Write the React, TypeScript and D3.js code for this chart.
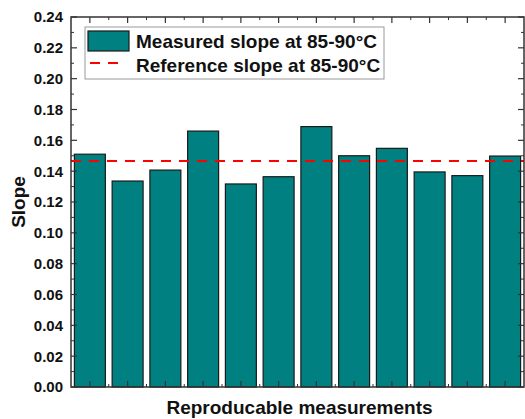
import React from 'react';
import * as d3 from 'd3';

// chart data
const runs = [1, 2, 3, 4, 5, 6, 7, 8, 9, 10, 11, 12];
const measuredSlope = [0.151, 0.1336, 0.1407, 0.166, 0.1317, 0.1364, 0.1689, 0.150, 0.1548, 0.1395, 0.1371, 0.1498];
const referenceSlope = 0.1466;
const yTicks = [0, 0.02, 0.04, 0.06, 0.08, 0.1, 0.12, 0.14, 0.16, 0.18, 0.2, 0.22, 0.24];
const legendLabels = ['Measured slope at 85-90°C', 'Reference slope at 85-90°C'];

const width = 525;
const height = 419;
const margin = { top: 17, right: 1, bottom: 32, left: 71 };
const font = 'Arial, "Liberation Sans", sans-serif';
const teal = '#008080';

const App = () => {
  const x = d3.scaleLinear()
    .domain([0.5, 12.5])
    .range([margin.left, width - margin.right]);

  const y = d3.scaleLinear()
    .domain([0, 0.24])
    .range([height - margin.bottom, margin.top]);

  const barW = (x(1) - x(0)) * 0.82;
  const x0 = margin.left;
  const x1 = width - margin.right;
  const y0 = height - margin.bottom;
  const y1 = margin.top;

  const yMinor = d3.range(0.01, 0.24, 0.02);
  const xMinor = d3.range(1.5, 12.5, 1);

  return (
    <svg width={width} height={height} style={{ position: 'absolute', left: 0, top: 0, background: '#fff' }}>
      {/* bars */}
      {runs.map((r, i) => (
        <rect key={r}
          x={x(r) - barW / 2}
          y={y(measuredSlope[i])}
          width={barW}
          height={y(0) - y(measuredSlope[i])}
          fill={teal}
          stroke="#1a1a1a"
          strokeWidth={1.2} />
      ))}

      {/* reference line */}
      <line x1={x0} x2={x1} y1={y(referenceSlope)} y2={y(referenceSlope)}
        stroke="#ff0000" strokeWidth={2} strokeDasharray="10,8" />

      {/* frame */}
      <rect x={x0} y={y1} width={x1 - x0} height={y0 - y1} fill="none" stroke="#333" strokeWidth={1.5} />

      {/* y ticks, left and right, inward */}
      {yTicks.map(t => (
        <g key={'y' + t}>
          <line x1={x0} x2={x0 + 6} y1={y(t)} y2={y(t)} stroke="#333" strokeWidth={1.2} />
          <line x1={x1} x2={x1 - 6} y1={y(t)} y2={y(t)} stroke="#333" strokeWidth={1.2} />
          <text x={x0 - 8} y={y(t)} dy="0.36em" textAnchor="end"
            fontFamily={font} fontWeight="bold" fontSize={15} fill="#111">
            {t.toFixed(2)}
          </text>
        </g>
      ))}
      {yMinor.map(t => (
        <g key={'ym' + t}>
          <line x1={x0} x2={x0 + 3} y1={y(t)} y2={y(t)} stroke="#333" strokeWidth={1} />
          <line x1={x1} x2={x1 - 3} y1={y(t)} y2={y(t)} stroke="#333" strokeWidth={1} />
        </g>
      ))}

      {/* x ticks, top and bottom, inward */}
      {runs.map(r => (
        <g key={'x' + r}>
          <line x1={x(r)} x2={x(r)} y1={y0} y2={y0 - 6} stroke="#333" strokeWidth={1.2} />
          <line x1={x(r)} x2={x(r)} y1={y1} y2={y1 + 6} stroke="#333" strokeWidth={1.2} />
        </g>
      ))}
      {xMinor.map(r => (
        <g key={'xm' + r}>
          <line x1={x(r)} x2={x(r)} y1={y0} y2={y0 - 3} stroke="#333" strokeWidth={1} />
          <line x1={x(r)} x2={x(r)} y1={y1} y2={y1 + 3} stroke="#333" strokeWidth={1} />
        </g>
      ))}

      {/* axis titles */}
      <text transform={`translate(25,${(y0 + y1) / 2}) rotate(-90)`} textAnchor="middle"
        fontFamily={font} fontWeight="bold" fontSize={19} fill="#111">Slope</text>
      <text x={(x0 + x1) / 2 + 2} y={414} textAnchor="middle"
        fontFamily={font} fontWeight="bold" fontSize={19} fill="#111">Reproducable measurements</text>

      {/* legend */}
      <g>
        <rect x={85} y={27} width={299} height={52} fill="#fff" stroke="#999" strokeWidth={1} />
        <rect x={88} y={31} width={41} height={20} fill={teal} stroke="#1a1a1a" strokeWidth={1.2} />
        <text x={136} y={48} fontFamily={font} fontWeight="bold" fontSize={19} fill="#111">{legendLabels[0]}</text>
        <line x1={90} x2={120} y1={63} y2={63} stroke="#ff0000" strokeWidth={2} strokeDasharray="10,8" />
        <text x={136} y={72} fontFamily={font} fontWeight="bold" fontSize={19} fill="#111">{legendLabels[1]}</text>
      </g>
    </svg>
  );
};

export default App;
